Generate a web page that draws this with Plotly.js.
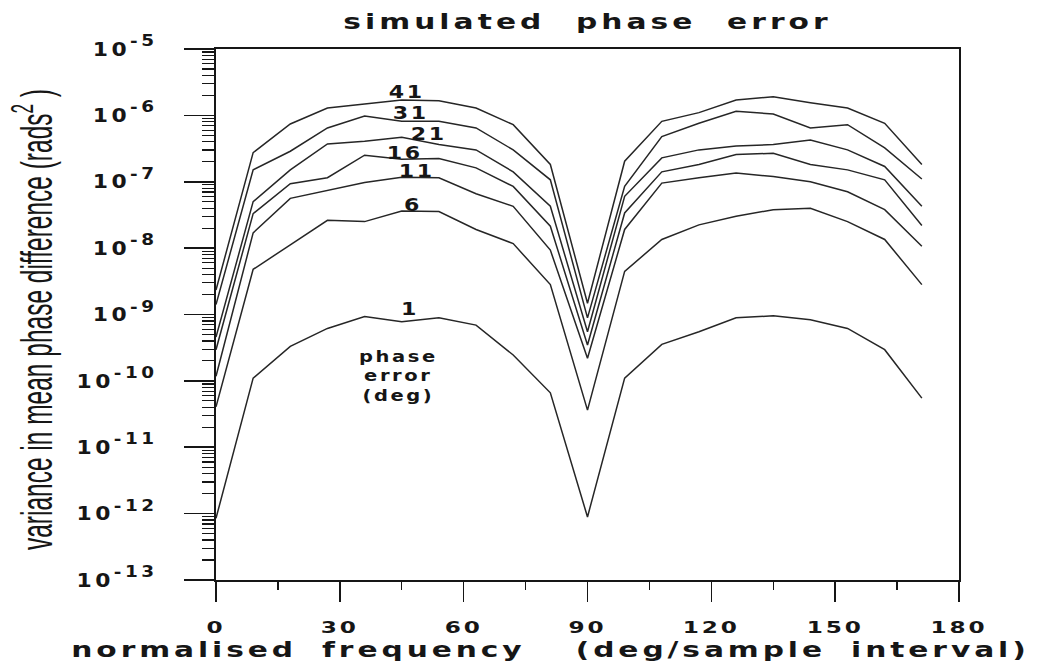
<!DOCTYPE html>
<html>
<head>
<meta charset="utf-8">
<script src="https://cdn.plot.ly/plotly-3.0.1.min.js"></script>
<style>
  html, body { margin: 0; padding: 0; background: #fff; }
  #plot { width: 1039px; height: 666px; }
</style>
</head>
<body>
<div id="plot"></div>
<script>
// normalised frequency (deg/sample interval)
const freqDeg = [0, 9, 18, 27, 36, 45, 54, 63, 72, 81, 90, 99, 108, 117, 126, 135, 144, 153, 162, 171];

// phase error labels (deg)
const phaseErrorLabels = ['41', '31', '21', '16', '11', '6', '1'];

// variance in mean phase difference (rads^2)
const var41 = [2.34e-9, 2.75e-7, 7.41e-7, 1.29e-6, 1.48e-6, 1.70e-6, 1.66e-6, 1.29e-6, 7.24e-7, 1.82e-7,
               1.48e-9, 2.04e-7, 8.13e-7, 1.10e-6, 1.70e-6, 1.91e-6, 1.55e-6, 1.29e-6, 7.59e-7, 1.82e-7];
const var31 = [1.41e-9, 1.51e-7, 2.88e-7, 6.46e-7, 9.77e-7, 8.13e-7, 8.13e-7, 6.46e-7, 3.02e-7, 1.07e-7,
               8.91e-10, 8.51e-8, 4.79e-7, 7.59e-7, 1.15e-6, 1.05e-6, 6.46e-7, 7.24e-7, 3.24e-7, 1.10e-7];
const var21 = [4.57e-10, 5.01e-8, 1.51e-7, 3.72e-7, 4.07e-7, 4.68e-7, 3.63e-7, 3.02e-7, 1.41e-7, 4.27e-8,
               5.50e-10, 6.03e-8, 2.29e-7, 3.02e-7, 3.47e-7, 3.63e-7, 4.27e-7, 3.02e-7, 1.70e-7, 4.27e-8];
const var16 = [2.95e-10, 3.31e-8, 9.33e-8, 1.15e-7, 2.51e-7, 2.19e-7, 2.24e-7, 1.62e-7, 8.51e-8, 2.14e-8,
               3.47e-10, 3.39e-8, 1.41e-7, 1.82e-7, 2.57e-7, 2.69e-7, 1.82e-7, 1.51e-7, 1.07e-7, 2.19e-8];
const var11 = [1.17e-10, 1.70e-8, 5.62e-8, 7.41e-8, 9.77e-8, 1.17e-7, 1.15e-7, 6.61e-8, 4.27e-8, 9.33e-9,
               2.19e-10, 1.91e-8, 9.55e-8, 1.15e-7, 1.35e-7, 1.20e-7, 1.00e-7, 7.08e-8, 3.80e-8, 1.07e-8];
const var6  = [4.07e-11, 4.79e-9, 1.12e-8, 2.63e-8, 2.51e-8, 3.63e-8, 3.55e-8, 1.91e-8, 1.17e-8, 2.82e-9,
               3.63e-11, 4.47e-9, 1.35e-8, 2.24e-8, 3.02e-8, 3.80e-8, 3.98e-8, 2.51e-8, 1.35e-8, 2.82e-9];
const var1  = [8.51e-13, 1.10e-10, 3.31e-10, 6.17e-10, 9.33e-10, 7.76e-10, 8.91e-10, 6.92e-10, 2.45e-10, 6.61e-11,
               8.91e-13, 1.10e-10, 3.55e-10, 5.50e-10, 8.91e-10, 9.55e-10, 8.32e-10, 6.17e-10, 2.95e-10, 5.50e-11];

const seriesValues = [var41, var31, var21, var16, var11, var6, var1];

// axis ticks
const xTickVals = [0, 30, 60, 90, 120, 150, 180];
const yTickVals = [1e-13, 1e-12, 1e-11, 1e-10, 1e-9, 1e-8, 1e-7, 1e-6, 1e-5];
const yTickExp  = ['-13', '-12', '-11', '-10', '-9', '-8', '-7', '-6', '-5'];
const yTickText = yTickExp.map(e => '10<sup>' + e + '</sup>');

const INK = '#161616';
const BOLD = '"DejaVu Sans", "Liberation Sans", sans-serif';

const traces = seriesValues.map((vals, i) => ({
  type: 'scatter', mode: 'lines', name: phaseErrorLabels[i] + ' deg',
  x: freqDeg, y: vals,
  line: { color: '#262626', width: 1.5 },
  showlegend: false, hoverinfo: 'skip'
}));

// label positions (x in deg, y in log10 units)
const labelPos = [[46.2, -5.65], [47.3, -5.965], [51.5, -6.28], [45.8, -6.56], [48.6, -6.835], [47.8, -7.35], [46.9, -8.92]];
const annotations = phaseErrorLabels.map((lab, i) => ({
  x: labelPos[i][0], y: labelPos[i][1], xref: 'x', yref: 'y', text: lab,
  showarrow: false, xanchor: 'center', yanchor: 'middle',
  font: { family: BOLD, size: 17, color: INK, weight: 'bold' }
}));
annotations.push({
  x: 44.1, y: -9.93, xref: 'x', yref: 'y', text: 'phase<br>error<br>(deg)',
  showarrow: false, xanchor: 'center', yanchor: 'middle', align: 'center',
  font: { family: BOLD, size: 15, color: INK, weight: 'bold' }
});

const layout = {
  width: 1039, height: 666,
  margin: { l: 216, r: 80, t: 49, b: 86 },
  paper_bgcolor: '#fff', plot_bgcolor: '#fff',
  showlegend: false,
  title: {
    text: 'simulated phase error',
    x: 0.5, xref: 'paper', y: 1 - 21 / 666, yref: 'container', yanchor: 'middle',
    font: { family: BOLD, size: 22, color: INK, weight: 'bold' }
  },
  xaxis: {
    range: [0, 180], tickmode: 'array', tickvals: xTickVals,
    ticks: 'outside', ticklen: 20, tickwidth: 1.6, tickcolor: INK,
    minor: { ticks: 'outside', dtick: 15, tick0: 0, ticklen: 8, tickwidth: 1.4, tickcolor: INK },
    showline: true, linecolor: INK, linewidth: 1.8, mirror: true,
    showgrid: false, zeroline: false,
    ticklabelstandoff: 12,
    tickfont: { family: BOLD, size: 16, color: INK, weight: 'bold' },
    title: {
      text: 'normalised frequency  (deg/sample interval)',
      standoff: 1,
      font: { family: BOLD, size: 22, color: INK, weight: 'bold' }
    }
  },
  yaxis: {
    type: 'log', range: [-13, -5], tickmode: 'array', tickvals: yTickVals, ticktext: yTickText,
    ticks: 'outside', ticklen: 30, tickwidth: 1.6, tickcolor: INK,
    minor: { ticks: 'outside', dtick: 'D1', ticklen: 12, tickwidth: 1.2, tickcolor: INK },
    showline: true, linecolor: INK, linewidth: 1.8, mirror: true,
    showgrid: false, zeroline: false,
    ticklabelstandoff: 23,
    tickfont: { family: BOLD, size: 19, color: INK, weight: 'bold' },
    title: {
      text: 'variance in mean phase difference (rads<sup>2</sup> )',
      standoff: 10,
      font: { family: '"Liberation Sans", Arial, sans-serif', size: 24.5, color: INK }
    }
  },
  annotations: annotations
};

// idempotent: a text already carrying a scale() is left alone; Plotly redraws reset it
function stretchH(nodes, s, ls, ws, dx) {
  nodes.forEach(node => {
    try {
      if (ls) node.style.letterSpacing = ls + 'px';
      if (ws) node.style.wordSpacing = ws + 'px';
      const ex = node.getAttribute('transform') || '';
      if (ex.indexOf('scale(') >= 0) return;
      const bb = node.getBBox();
      if (!bb || !bb.width) return;
      const anchor = node.getAttribute('text-anchor') || 'start';
      const ax = anchor === 'end' ? bb.x + bb.width : (anchor === 'middle' ? bb.x + bb.width / 2 : bb.x);
      node.setAttribute('transform', ex + ' translate(' + (ax + (dx || 0)) + ',0) scale(' + s + ',1) translate(' + (-ax) + ',0)');
    } catch (e) { /* leave the text as drawn */ }
  });
}

function tickTexts(gd, letter) {
  const set = new Set();
  gd.querySelectorAll('.' + letter + 'axislayer-above text, g.' + letter + 'tick text, text.' + letter + 'tick')
    .forEach(t => set.add(t));
  gd.querySelectorAll('g[class*="' + letter + 'tick"] text').forEach(t => set.add(t));
  return Array.from(set);
}

function restyleTexts(gd) {
  const q = sel => Array.from(gd.querySelectorAll(sel));
  stretchH(q('.gtitle'), 1.35, 3, 12, 0);
  stretchH(q('.xtitle'), 1.35, 2.9, 8, -37);
  stretchH(q('.annotation-text'), 1.3, 2, 0, 0);

  const yt = gd.querySelector('.ytitle');
  if (yt) {
    const ex = yt.getAttribute('transform') || '';
    if (ex.indexOf('scale(') < 0) {
      const x0 = +yt.getAttribute('x'), y0 = +yt.getAttribute('y');
      const bb = yt.getBBox();
      const lb = bb.y + bb.height;
      const s = 1.8;
      const targetScreenX = 61;
      const shiftY = targetScreenX - (x0 + (lb - y0));
      const shiftX = -5;
      yt.setAttribute('transform', ex + ' translate(' + shiftX + ',' + shiftY + ') translate(0,' + lb + ') scale(1,' + s + ') translate(0,' + (-lb) + ')');
    }
  }

  try {
    const yTicks = tickTexts(gd, 'y');
    yTicks.forEach(t => {
      if ((t.getAttribute('transform') || '').indexOf('scale(') >= 0) return;
      t.querySelectorAll('tspan').forEach(ts => { ts.style.fontSize = '16px'; });
    });
    stretchH(yTicks, 1.15, 3, 0, 0);
    stretchH(tickTexts(gd, 'x'), 1.45, 2, 0, 0);
  } catch (e) { /* keep default tick labels */ }
}

Plotly.newPlot('plot', traces, layout, { staticPlot: true, displayModeBar: false }).then(gd => {
  restyleTexts(gd);
  gd.on('plotly_afterplot', () => restyleTexts(gd));
  requestAnimationFrame(() => restyleTexts(gd));
  let n = 0;
  const timer = setInterval(() => { restyleTexts(gd); if (++n > 40) clearInterval(timer); }, 50);
});
</script>
</body>
</html>
